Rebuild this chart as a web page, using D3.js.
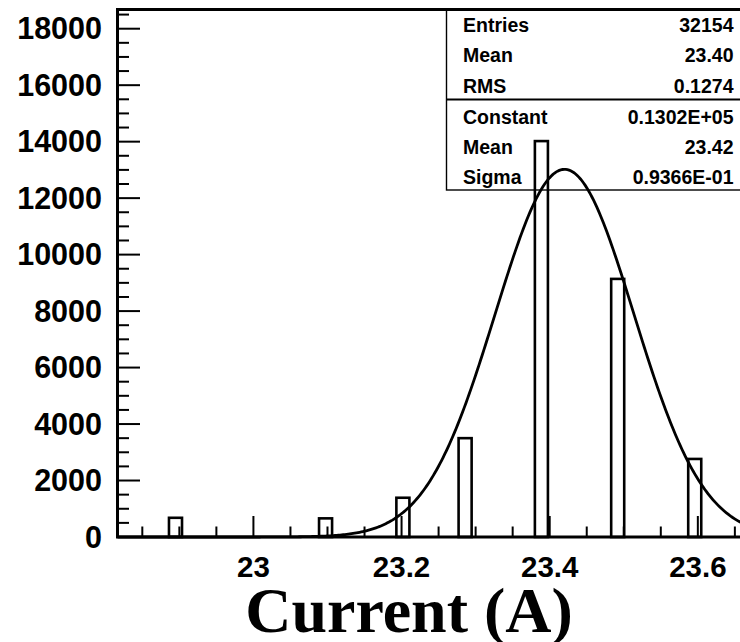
<!DOCTYPE html>
<html><head><meta charset="utf-8">
<script src="https://cdn.jsdelivr.net/npm/d3@7"></script>
<style>
html,body{margin:0;padding:0;background:#fff;}
svg{display:block;}
text{font-family:"Liberation Sans",Arial,Helvetica,sans-serif;font-weight:bold;fill:#000;}
</style></head>
<body>
<svg id="c" width="740" height="642"></svg>
<script>
// ---- data ----
const binLowEdges = [22.886, 23.0886, 23.193, 23.277, 23.380, 23.483, 23.587];
const binWidth = 0.0176;
const binCounts = [680, 660, 1390, 3500, 14020, 9140, 2764];
const xTickMajor = [23, 23.2, 23.4, 23.6];
const xTickLabels = ["23", "23.2", "23.4", "23.6"];
const yTickMajor = [0, 2000, 4000, 6000, 8000, 10000, 12000, 14000, 16000, 18000];
const yTickLabels = ["0", "2000", "4000", "6000", "8000", "10000", "12000", "14000", "16000", "18000"];
const statsLabels = ["Entries", "Mean", "RMS"];
const statsValues = ["32154", "23.40", "0.1274"];
const fitLabels = ["Constant", "Mean", "Sigma"];
const fitValues = ["0.1302E+05", "23.42", "0.9366E-01"];
const fitConstant = 13020, fitMean = 23.42, fitSigma = 0.09366;
const xTitle = "Current (A)";

// ---- layout ----
const svg = d3.select("#c");
const pLeft = 117.5, pTop = 9.5, pBottom = 537;
const x = d3.scaleLinear().domain([22.8165, 23.7]).range([pLeft, pLeft + 0.8835 * 740.7]);
const y = d3.scaleLinear().domain([0, 18680]).range([pBottom, pTop]);
const pRight = x.range()[1];

// bars
svg.append("g").selectAll("rect").data(binLowEdges).join("rect")
  .attr("x", d => x(d))
  .attr("width", d => x(d + binWidth) - x(d))
  .attr("y", (d, i) => y(binCounts[i]))
  .attr("height", (d, i) => y(0) - y(binCounts[i]))
  .attr("fill", "none").attr("stroke", "#000").attr("stroke-width", 2.6);

// axes ticks
const g = svg.append("g");
const xMinor = d3.range(22.85, 23.66, 0.05).map(v => +v.toFixed(2));
g.selectAll(".xt").data(xMinor).join("line")
  .attr("x1", d => x(d)).attr("x2", d => x(d))
  .attr("y1", pBottom).attr("y2", d => xTickMajor.some(m => Math.abs(m - d) < 1e-6) ? pBottom - 21 : pBottom - 10.5)
  .attr("stroke", "#000").attr("stroke-width", 2);
const yMinor = d3.range(0, 18501, 500);
g.selectAll(".yt").data(yMinor).join("line")
  .attr("y1", d => y(d)).attr("y2", d => y(d))
  .attr("x1", pLeft).attr("x2", d => d % 2000 === 0 ? pLeft + 22.5 : pLeft + 11.5)
  .attr("stroke", "#000").attr("stroke-width", 2);

// gaussian curve
const xs = d3.range(0, 401).map(i => x.domain()[0] + i * (x.domain()[1] - x.domain()[0]) / 400);
const gauss = v => fitConstant * Math.exp(-0.5 * Math.pow((v - fitMean) / fitSigma, 2));
svg.append("path")
  .attr("d", d3.line().x(d => x(d)).y(d => y(gauss(d)))(xs))
  .attr("fill", "none").attr("stroke", "#000").attr("stroke-width", 2.8);

// frame
svg.append("rect").attr("x", pLeft).attr("y", pTop).attr("width", pRight - pLeft).attr("height", pBottom - pTop)
  .attr("fill", "none").attr("stroke", "#000").attr("stroke-width", 3);

// tick labels
svg.append("g").selectAll("text").data(xTickMajor).join("text")
  .attr("x", d => x(d)).attr("y", 577).attr("text-anchor", "middle")
  .style("font-size", "29.5px").text((d, i) => xTickLabels[i]);
svg.append("g").selectAll("text").data(yTickMajor).join("text")
  .attr("x", 102).attr("y", d => y(d) + 10.5).attr("text-anchor", "end")
  .style("font-size", "30.5px").text((d, i) => yTickLabels[i]);

// axis title
svg.append("text").attr("x", 409).attr("y", 632).attr("text-anchor", "middle")
  .style("font-family", "'Liberation Serif','Times New Roman',serif").style("font-size", "64px")
  .text(xTitle);

// stats box (transparent, marks show through)
const bx = 446.5, bw = 320;
const sb = svg.append("g");
sb.append("rect").attr("x", bx).attr("y", pTop).attr("width", bw).attr("height", 190 - pTop)
  .attr("fill", "none").attr("stroke", "#000").attr("stroke-width", 1.4);
sb.append("line").attr("x1", bx).attr("x2", bx + bw).attr("y1", 99.5).attr("y2", 99.5)
  .attr("stroke", "#000").attr("stroke-width", 2);
const rowsY1 = [25, 55, 85.5], rowsY2 = [116.5, 146.5, 176.5];
statsLabels.forEach((t, i) => {
  sb.append("text").attr("x", 463).attr("y", rowsY1[i] + 7).style("font-size", "19.5px").text(t);
  sb.append("text").attr("x", 733.5).attr("y", rowsY1[i] + 7).attr("text-anchor", "end").style("font-size", "19.5px").text(statsValues[i]);
});
fitLabels.forEach((t, i) => {
  sb.append("text").attr("x", 463).attr("y", rowsY2[i] + 7).style("font-size", "19.5px").text(t);
  sb.append("text").attr("x", 733.5).attr("y", rowsY2[i] + 7).attr("text-anchor", "end").style("font-size", "19.5px").text(fitValues[i]);
});
</script>
</body></html>
